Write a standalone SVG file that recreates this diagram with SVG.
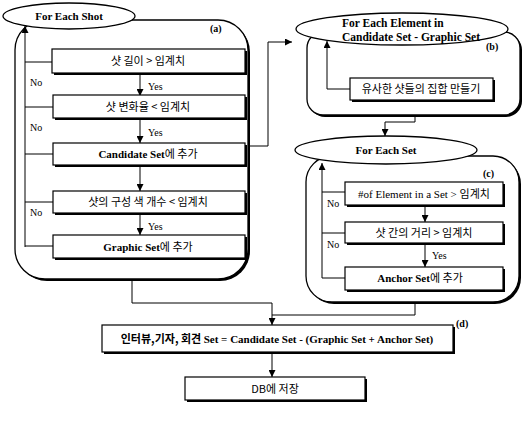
<svg xmlns="http://www.w3.org/2000/svg" width="523" height="424" viewBox="0 0 523 424">
<defs>
<marker id="ah" viewBox="0 0 10 10" refX="10" refY="5" markerWidth="7" markerHeight="7" markerUnits="userSpaceOnUse" orient="auto">
<path d="M0,0 L10,5 L0,10 z" fill="#000"/>
</marker>
<style>
.cont{fill:#fff;stroke:#000;stroke-width:1.3}
.sh{fill:#000}
.box{fill:#fff;stroke:#000;stroke-width:1.2}
.ell{fill:#fff;stroke:#000;stroke-width:1.3}
.ln{fill:none;stroke:#000;stroke-width:1}
.arr{fill:none;stroke:#000;stroke-width:1;marker-end:url(#ah)}
text{font-family:"Liberation Serif","Noto Sans CJK KR",serif;fill:#000}
.t{font-size:11px;text-anchor:middle}
.b{font-weight:bold}
.k{font-family:"Noto Sans CJK KR","Liberation Sans",sans-serif;font-size:11px;text-anchor:middle}
.s{font-size:10px}
</style>
</defs>
<rect width="523" height="424" fill="#fff"/>

<g id="panel-a">
<rect class="sh" x="17" y="22" width="233" height="259" rx="30"/>
<rect class="cont" x="15" y="20" width="233" height="259" rx="30"/>
<text class="s b" x="210" y="32">(a)</text>
</g>
<g id="panel-b">
<rect class="sh" x="309" y="34" width="213" height="83" rx="16"/>
<rect class="cont" x="307" y="32" width="213" height="83" rx="16"/>
<text class="s b" x="486" y="50">(b)</text>
</g>
<g id="panel-c">
<rect class="sh" x="308" y="158" width="213" height="146" rx="26"/>
<rect class="cont" x="306" y="156" width="213" height="146" rx="26"/>
<text class="s b" x="483" y="177">(c)</text>
</g>

<g id="connectors">
<!-- panel a loop -->
<path class="arr" d="M25,247 L25,26"/>
<path class="ln" d="M25,62 H52 M25,107 H53 M25,154 H53 M25,202 H53 M25,246 H53"/>
<path class="arr" d="M140,73 V96"/>
<path class="arr" d="M140,119 V143"/>
<path class="arr" d="M140,165 V191"/>
<path class="arr" d="M140,213 V235"/>
<!-- a to b -->
<path class="arr" d="M248,146 H268 V42 H292"/>
<!-- b loop -->
<path class="arr" d="M350,89 H327 V41"/>
<!-- b to c -->
<path class="arr" d="M415,115 V122 H385 V136"/>
<!-- c loop -->
<path class="arr" d="M322,278 V163"/>
<path class="ln" d="M322,192 H345 M322,233 H345 M322,278 H345"/>
<path class="arr" d="M425,205 V222"/>
<path class="arr" d="M425,243 V267"/>
<!-- to d -->
<path class="ln" d="M132,279 V303 H272"/>
<path class="ln" d="M415,303 V315 H272"/>
<path class="arr" d="M272,303 V325"/>
<path class="arr" d="M272,352 V377"/>
</g>

<g id="start-a">
<ellipse class="ell" cx="69" cy="16" rx="66" ry="13"/>
<text class="t b" x="69" y="20">For Each Shot</text>
</g>
<g id="a1">
<rect class="sh" x="54" y="51" width="193" height="24"/>
<rect class="box" x="52" y="49" width="193" height="24"/>
<text class="k" x="148" y="65">샷 길이 &gt; 임계치</text>
</g>
<text class="s" x="30" y="86">No</text>
<text class="s" x="148" y="90">Yes</text>
<g id="a2">
<rect class="sh" x="55" y="97" width="192" height="23"/>
<rect class="box" x="53" y="95" width="192" height="23"/>
<text class="k" x="148" y="111">샷 변화율 &lt; 임계치</text>
</g>
<text class="s" x="30" y="131">No</text>
<text class="s" x="148" y="136">Yes</text>
<g id="a3">
<rect class="sh" x="55" y="145" width="192" height="22"/>
<rect class="box" x="53" y="143" width="192" height="22"/>
<text class="t b" x="148" y="158">Candidate Set<tspan class="k" style="font-weight:normal">에 추가</tspan></text>
</g>
<g id="a4">
<rect class="sh" x="55" y="193" width="192" height="22"/>
<rect class="box" x="53" y="191" width="192" height="22"/>
<text class="k" x="148" y="206">샷의 구성 색 개수 &lt; 임계치</text>
</g>
<text class="s" x="30" y="216">No</text>
<text class="s" x="148" y="230">Yes</text>
<g id="a5">
<rect class="sh" x="55" y="237" width="192" height="23"/>
<rect class="box" x="53" y="235" width="192" height="23"/>
<text class="t b" x="148" y="251">Graphic Set<tspan class="k" style="font-weight:normal">에 추가</tspan></text>
</g>

<g id="start-b">
<ellipse class="ell" cx="402" cy="29" rx="106" ry="16"/>
<text class="b" x="342" y="27" font-size="11.5">For Each Element in</text>
<text class="b" x="342" y="41" font-size="11.5">Candidate Set - Graphic Set</text>
</g>
<g id="b1">
<rect class="sh" x="352" y="80" width="143" height="22"/>
<rect class="box" x="350" y="78" width="143" height="22"/>
<text class="k" x="421" y="93">유사한 샷들의 집합 만들기</text>
</g>

<g id="start-c">
<ellipse class="ell" cx="386" cy="150" rx="91" ry="14"/>
<text class="t b" x="386" y="154">For Each Set</text>
</g>
<g id="c1">
<rect class="sh" x="347" y="184" width="158" height="23"/>
<rect class="box" x="345" y="182" width="158" height="23"/>
<text class="k" x="424" y="198"><tspan style="font-family:'Liberation Serif',serif">#of Element in a Set &gt; </tspan>임계치</text>
</g>
<text class="s" x="327" y="207">No</text>
<g id="c2">
<rect class="sh" x="347" y="224" width="158" height="21"/>
<rect class="box" x="345" y="222" width="158" height="21"/>
<text class="k" x="424" y="237">샷 간의 거리 &gt; 임계치</text>
</g>
<text class="s" x="327" y="248">No</text>
<text class="s" x="432" y="259">Yes</text>
<g id="c3">
<rect class="sh" x="347" y="269" width="158" height="23"/>
<rect class="box" x="345" y="267" width="158" height="23"/>
<text class="t b" x="420" y="282">Anchor Set<tspan class="k" style="font-weight:normal">에 추가</tspan></text>
</g>

<g id="d">
<rect class="sh" x="104" y="327" width="351" height="27"/>
<rect class="box" x="102" y="325" width="351" height="27"/>
<text class="t b" x="277" y="343"><tspan class="k" style="font-weight:bold">인터뷰,기자, 회견 </tspan>Set = Candidate Set - (Graphic Set + Anchor Set)</text>
<text class="s b" x="456" y="327">(d)</text>
</g>
<g id="db">
<rect class="sh" x="187" y="379" width="180" height="23"/>
<rect class="box" x="185" y="377" width="180" height="23"/>
<text class="k" x="275" y="393">DB에 저장</text>
</g>
</svg>
